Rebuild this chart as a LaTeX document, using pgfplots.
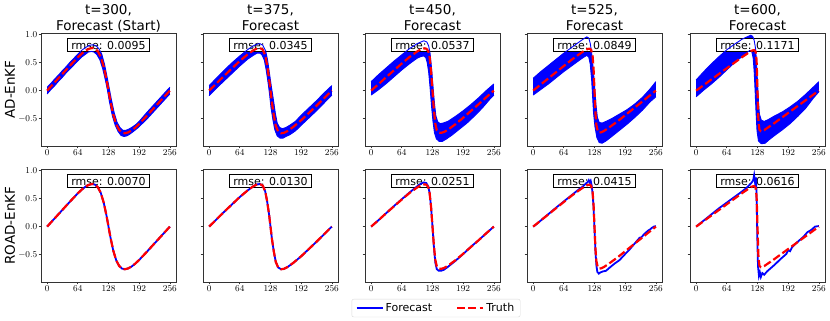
\documentclass[border=0pt]{standalone}
\usepackage{fontspec}
\newfontfamily\dejavu{DejaVu Sans}
\usepackage{pgfplots}
\usepackage{pgfplotstable}
\usepgfplotslibrary{fillbetween}
\pgfplotsset{compat=1.18}

% ---- truth at each time ----
\pgfplotstableread{
x y
0 0
16 0.15
32 0.30
48 0.45
64 0.595
72 0.66
80 0.715
88 0.75
94 0.762
100 0.75
106 0.70
112 0.60
118 0.43
124 0.19
128 0
132 -0.19
138 -0.43
144 -0.60
150 -0.70
156 -0.75
162 -0.762
168 -0.75
176 -0.715
184 -0.66
192 -0.595
208 -0.45
224 -0.30
240 -0.15
256 0
}\Ta
\pgfplotstableread{
x y
0 0
16 0.135
32 0.27
48 0.40
64 0.53
80 0.645
92 0.72
100 0.755
106 0.762
112 0.73
117 0.63
121 0.45
125 0.22
128 0
131 -0.22
135 -0.45
139 -0.63
144 -0.73
150 -0.762
156 -0.755
164 -0.72
176 -0.645
192 -0.53
208 -0.40
224 -0.27
240 -0.135
256 0
}\Tb
\pgfplotstableread{
x y
0 0
16 0.12
32 0.245
48 0.365
64 0.485
80 0.60
96 0.70
104 0.74
110 0.755
115 0.75
119 0.71
122 0.60
125 0.35
128 0
131 -0.35
134 -0.60
137 -0.71
141 -0.75
146 -0.755
152 -0.74
160 -0.70
176 -0.60
192 -0.485
208 -0.365
224 -0.245
240 -0.12
256 0
}\Tc
\pgfplotstableread{
x y
0 0
16 0.11
32 0.22
48 0.33
64 0.44
80 0.55
96 0.65
108 0.72
114 0.745
118 0.75
121 0.73
124 0.62
126 0.40
128 0
130 -0.40
132 -0.62
135 -0.73
138 -0.75
142 -0.745
148 -0.72
160 -0.65
176 -0.55
192 -0.44
208 -0.33
224 -0.22
240 -0.11
256 0
}\Td
\pgfplotstableread{
x y
0 0
16 0.10
32 0.20
48 0.30
64 0.40
80 0.50
96 0.60
108 0.67
114 0.705
118 0.72
121 0.725
124 0.70
126 0.55
127 0.30
128 0
129 -0.30
130 -0.55
132 -0.70
135 -0.725
138 -0.72
142 -0.705
148 -0.67
160 -0.60
176 -0.50
192 -0.40
208 -0.30
224 -0.20
240 -0.10
256 0
}\Te

% ---- AD-EnKF forecast envelopes (upper / lower) ----
\pgfplotstableread{
x y
0 0.06
8 0.13
16 0.21
24 0.28
32 0.36
40 0.43
48 0.51
56 0.58
64 0.65
72 0.72
80 0.77
88 0.81
96 0.82
102 0.80
108 0.75
114 0.65
120 0.46
126 0.20
130 0.02
134 -0.16
140 -0.40
146 -0.57
152 -0.66
158 -0.71
164 -0.71
170 -0.69
178 -0.65
186 -0.60
194 -0.53
208 -0.39
224 -0.24
240 -0.09
256 0.06
}\Ha
\pgfplotstableread{
x y
0 -0.06
8 0.02
16 0.09
24 0.17
32 0.24
40 0.32
48 0.39
56 0.46
64 0.53
72 0.60
80 0.65
86 0.69
92 0.70
98 0.69
104 0.64
110 0.55
116 0.39
122 0.17
126 0.00
130 -0.20
136 -0.45
142 -0.62
148 -0.73
154 -0.80
160 -0.82
166 -0.81
172 -0.78
180 -0.73
190 -0.66
208 -0.51
224 -0.36
240 -0.21
256 -0.06
}\La
\pgfplotstableread{
x y
0 0.09
16 0.23
32 0.37
48 0.50
64 0.62
80 0.73
92 0.80
100 0.83
106 0.84
112 0.81
118 0.71
122 0.54
126 0.30
130 0.06
134 -0.16
138 -0.40
142 -0.58
147 -0.66
153 -0.68
160 -0.66
168 -0.62
180 -0.55
192 -0.44
208 -0.31
224 -0.18
240 -0.04
256 0.09
}\Hb
\pgfplotstableread{
x y
0 -0.09
16 0.05
32 0.18
48 0.31
64 0.44
80 0.56
92 0.63
100 0.67
106 0.67
110 0.64
115 0.55
119 0.37
123 0.14
126 -0.06
129 -0.30
133 -0.52
137 -0.70
142 -0.81
148 -0.85
154 -0.85
160 -0.82
168 -0.79
180 -0.72
192 -0.62
208 -0.49
224 -0.36
240 -0.22
256 -0.08
}\Lb
\pgfplotstableread{
x y
0 0.16
16 0.29
32 0.41
48 0.53
64 0.64
80 0.75
96 0.84
104 0.87
110 0.89
116 0.87
120 0.80
123 0.66
126 0.40
129 0.08
132 -0.22
135 -0.45
139 -0.56
144 -0.59
150 -0.58
160 -0.55
176 -0.46
192 -0.36
208 -0.25
224 -0.13
240 0.00
256 0.12
}\Hc
\pgfplotstableread{
x y
0 -0.08
16 0.02
32 0.13
48 0.25
64 0.37
80 0.48
96 0.58
104 0.61
110 0.62
114 0.59
117 0.50
120 0.33
123 0.05
126 -0.28
129 -0.55
132 -0.75
136 -0.86
142 -0.91
148 -0.91
156 -0.87
168 -0.80
184 -0.69
200 -0.58
216 -0.45
232 -0.31
248 -0.15
256 -0.08
}\Lc
\pgfplotstableread{
x y
0 0.22
16 0.34
32 0.45
48 0.56
64 0.67
80 0.77
96 0.87
106 0.93
112 0.96
116 0.94
119 0.85
122 0.68
125 0.42
128 0.10
131 -0.25
134 -0.48
138 -0.57
144 -0.58
152 -0.55
164 -0.50
180 -0.42
196 -0.34
212 -0.24
228 -0.12
244 0.03
256 0.16
}\Hd
\pgfplotstableread{
x y
0 -0.08
16 0.02
32 0.12
48 0.23
64 0.34
80 0.44
96 0.54
106 0.60
112 0.63
116 0.60
119 0.48
122 0.20
124 -0.10
126 -0.40
129 -0.65
133 -0.84
138 -0.93
144 -0.94
152 -0.90
164 -0.82
180 -0.71
196 -0.60
212 -0.48
228 -0.35
244 -0.20
256 -0.11
}\Ld
\pgfplotstableread{
x y
0 0.19
16 0.34
32 0.48
48 0.61
64 0.73
80 0.83
96 0.92
106 0.96
114 0.99
118 0.97
121 0.90
124 0.75
126 0.50
128 0.15
130 -0.20
132 -0.42
136 -0.53
142 -0.55
150 -0.52
164 -0.45
180 -0.38
196 -0.29
212 -0.19
228 -0.07
244 0.06
256 0.16
}\He
\pgfplotstableread{
x y
0 -0.11
16 0.01
32 0.12
48 0.24
64 0.37
80 0.50
96 0.61
106 0.68
112 0.72
116 0.70
119 0.58
121 0.35
123 0.00
125 -0.40
127 -0.72
130 -0.90
136 -0.95
144 -0.94
152 -0.88
164 -0.80
180 -0.70
196 -0.59
212 -0.46
228 -0.32
244 -0.14
256 -0.02
}\Le

% ---- ROAD-EnKF forecasts ----
\pgfplotstableread{
x y
0 0
16 0.12
32 0.245
48 0.37
64 0.49
80 0.61
96 0.72
104 0.77
110 0.79
115 0.78
119 0.72
122 0.60
125 0.35
128 0
131 -0.37
134 -0.65
137 -0.76
141 -0.79
146 -0.79
152 -0.77
160 -0.72
176 -0.61
192 -0.49
208 -0.36
224 -0.245
240 -0.12
256 0
}\Fc
\pgfplotstableread{
x y
0 0
8 0.05
16 0.11
32 0.225
48 0.34
64 0.45
80 0.56
96 0.67
104 0.72
110 0.77
114 0.80
116 0.83
118 0.79
120 0.82
122 0.74
124 0.60
126 0.35
128 -0.05
130 -0.45
132 -0.70
134 -0.81
137 -0.84
140 -0.82
146 -0.80
152 -0.79
160 -0.73
170 -0.66
180 -0.60
192 -0.49
200 -0.42
208 -0.34
216 -0.26
222 -0.20
226 -0.19
232 -0.13
240 -0.07
244 -0.05
248 -0.02
252 0.0
256 0.01
}\Fd
\pgfplotstableread{
x y
0 0
16 0.11
32 0.22
48 0.33
64 0.43
80 0.53
96 0.63
106 0.70
112 0.75
116 0.79
119 0.83
121 0.92
123 0.78
125 0.88
126 0.55
127 0.10
128 -0.35
129 -0.70
131 -0.88
133 -0.82
135 -0.90
138 -0.83
142 -0.86
148 -0.80
156 -0.74
164 -0.68
176 -0.58
188 -0.49
192 -0.42
196 -0.44
200 -0.37
212 -0.27
220 -0.21
224 -0.18
232 -0.10
240 -0.06
248 0.0
256 0.01
}\Fe

\pgfplotsset{
  panel/.style={
    scale only axis, width=135pt, height=113pt, anchor=south west,
    xmin=-12.8, xmax=268.8, ymin=-0.99, ymax=1.03,
    xtick={0,64,128,192,256}, ytick={-0.5,0,0.5,1},
    tick align=outside, tick pos=left, major tick length=2.5pt,
    axis line style={black!80, line width=0.7pt},
    tick style={black!80, line width=0.7pt},
    tick label style={font=\fontsize{9}{10}\selectfont, inner sep=1pt},
    yticklabel style={/pgf/number format/.cd, fixed, fixed zerofill, precision=1},
    every axis title/.style={at={(rel axis cs:0.5,1)}, anchor=south, inner sep=0pt,
      yshift=-2.1pt, align=center, font=\fontsize{13.5}{15.5}\selectfont\dejavu},
    ylabel style={at={(rel axis cs:-0.23,0.5)}, anchor=center,
      font=\fontsize{13.5}{15}\selectfont\dejavu},
  },
  nolab/.style={yticklabels={}},
}
\tikzset{
  truth/.style={red, line width=2.2pt, dash pattern=on 8pt off 3.2pt},
  fc/.style={blue, line width=1.8pt},
  edge/.style={blue, line width=0.9pt},
  rmse/.style={draw=black, line width=0.7pt, fill=white,
    font=\fontsize{11}{13}\selectfont\dejavu, inner xsep=3.5pt, inner ysep=2.6pt,
    text height=8.2pt, text depth=0pt},
}

\begin{document}
\begin{tikzpicture}

% ===== row 1: AD-EnKF =====
\begin{axis}[panel, at={(41pt,175pt)}, title={t=300,\\Forecast (Start)\strut}, ylabel={AD-EnKF}]
\node[rmse] at (rel axis cs:0.5,0.894) {rmse: 0.0095};
\addplot[edge, name path=h1] table {\Ha};
\addplot[edge, name path=l1] table {\La};
\addplot[blue] fill between[of=h1 and l1];
\addplot[truth] table {\Ta};
\end{axis}

\begin{axis}[panel, nolab, at={(203pt,175pt)}, title={t=375,\\Forecast\strut}]
\node[rmse] at (rel axis cs:0.5,0.894) {rmse: 0.0345};
\addplot[edge, name path=h2] table {\Hb};
\addplot[edge, name path=l2] table {\Lb};
\addplot[blue] fill between[of=h2 and l2];
\addplot[truth] table {\Tb};
\end{axis}

\begin{axis}[panel, nolab, at={(365pt,175pt)}, title={t=450,\\Forecast\strut}]
\node[rmse] at (rel axis cs:0.5,0.894) {rmse: 0.0537};
\addplot[edge, name path=h3] table {\Hc};
\addplot[edge, name path=l3] table {\Lc};
\addplot[blue] fill between[of=h3 and l3];
\addplot[truth] table {\Tc};
\end{axis}

\begin{axis}[panel, nolab, at={(527pt,175pt)}, title={t=525,\\Forecast\strut}]
\node[rmse] at (rel axis cs:0.5,0.894) {rmse: 0.0849};
\addplot[edge, name path=h4] table {\Hd};
\addplot[edge, name path=l4] table {\Ld};
\addplot[blue] fill between[of=h4 and l4];
\addplot[truth] table {\Td};
\end{axis}

\begin{axis}[panel, nolab, at={(690pt,175pt)}, title={t=600,\\Forecast\strut}]
\node[rmse] at (rel axis cs:0.5,0.894) {rmse: 0.1171};
\addplot[edge, name path=h5] table {\He};
\addplot[edge, name path=l5] table {\Le};
\addplot[blue] fill between[of=h5 and l5];
\addplot[truth] table {\Te};
\end{axis}

% ===== row 2: ROAD-EnKF =====
\begin{axis}[panel, at={(41pt,39pt)}, ylabel={ROAD-EnKF}]
\node[rmse] at (rel axis cs:0.5,0.894) {rmse: 0.0070};
\addplot[fc] table {\Ta};
\addplot[truth] table {\Ta};
\end{axis}

\begin{axis}[panel, nolab, at={(203pt,39pt)}]
\node[rmse] at (rel axis cs:0.5,0.894) {rmse: 0.0130};
\addplot[fc] table {\Tb};
\addplot[truth] table {\Tb};
\end{axis}

\begin{axis}[panel, nolab, at={(365pt,39pt)},
  legend style={at={(rel axis cs:0.526,-0.15)}, anchor=north, legend columns=2,
    draw=black!15, rounded corners=2pt, font=\fontsize{11}{12}\selectfont\dejavu,
    inner xsep=4pt, inner ysep=2pt,
    /tikz/every even column/.append style={column sep=22pt}},
  legend image code/.code={\draw[#1] (0pt,0pt) -- (26pt,0pt);}]
\node[rmse] at (rel axis cs:0.5,0.894) {rmse: 0.0251};
\addplot[fc] table {\Fc};
\addlegendentry{Forecast}
\addplot[truth] table {\Tc};
\addlegendentry{Truth}
\end{axis}

\begin{axis}[panel, nolab, at={(527pt,39pt)}]
\node[rmse] at (rel axis cs:0.5,0.894) {rmse: 0.0415};
\addplot[fc] table {\Fd};
\addplot[truth] table {\Td};
\end{axis}

\begin{axis}[panel, nolab, at={(690pt,39pt)}]
\node[rmse] at (rel axis cs:0.5,0.894) {rmse: 0.0616};
\addplot[fc] table {\Fe};
\addplot[truth] table {\Te};
\end{axis}

\path (0,0) rectangle (830pt,321pt);
\end{tikzpicture}
\end{document}
